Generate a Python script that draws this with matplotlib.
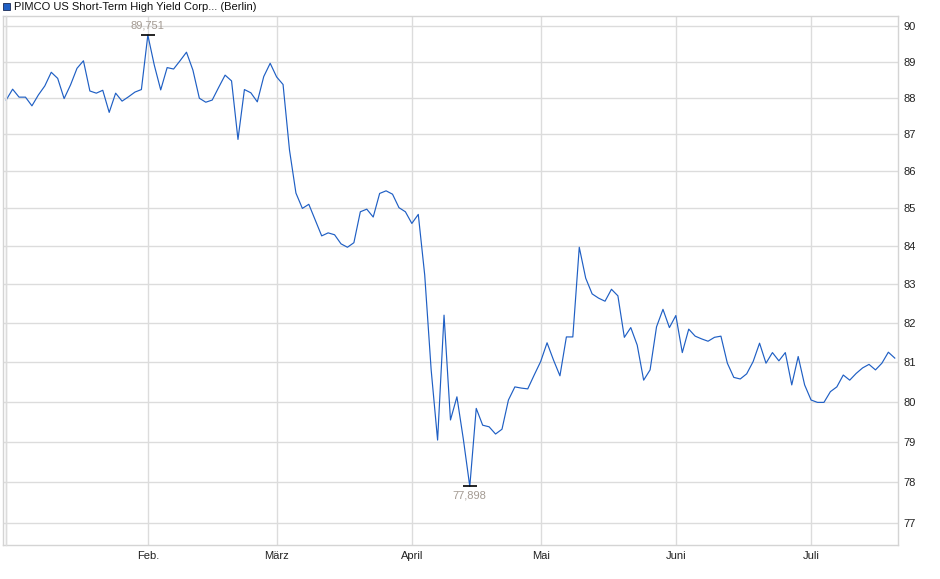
import matplotlib.pyplot as plt
from matplotlib.patches import Rectangle
from matplotlib.lines import Line2D

# daily closes (Berlin), one value per trading day
prices = [
    87.94, 88.24, 88.02, 88.02, 87.78, 88.08, 88.33, 88.71, 88.54, 87.98,
    88.36, 88.82, 89.03, 88.19, 88.13, 88.21, 87.60, 88.13, 87.91, 88.03,
    88.16, 88.23, 89.751, 88.91, 88.22, 88.84, 88.80, 89.03, 89.27, 88.77,
    87.99, 87.88, 87.94, 88.29, 88.63, 88.47, 86.86, 88.23, 88.14, 87.89,
    88.59, 88.96, 88.58, 88.37, 86.57, 85.41, 85.00, 85.11, 84.69, 84.27,
    84.35, 84.30, 84.06, 83.97, 84.09, 84.91, 84.98, 84.77, 85.40, 85.47,
    85.38, 85.02, 84.91, 84.60, 84.84, 83.24, 80.80, 79.04, 82.20, 79.54,
    80.12, 79.06, 77.898, 79.83, 79.41, 79.37, 79.19, 79.31, 80.04, 80.37,
    80.34, 80.32, 80.67, 81.01, 81.49, 81.05, 80.65, 81.64, 81.64, 83.97,
    83.16, 82.75, 82.64, 82.56, 82.87, 82.70, 81.63, 81.88, 81.43, 80.54,
    80.80, 81.90, 82.35, 81.88, 82.19, 81.24, 81.84, 81.66, 81.59, 81.53,
    81.63, 81.66, 80.97, 80.61, 80.57, 80.70, 81.01, 81.48, 80.97, 81.24,
    81.03, 81.24, 80.42, 81.14, 80.42, 80.04, 79.98, 79.98, 80.25, 80.37,
    80.67, 80.54, 80.71, 80.85, 80.94, 80.80, 80.97, 81.25, 81.10,
]
month_pos = [0, 22, 42, 63, 83, 104, 125]
month_labels = ['', 'Feb.', 'März', 'April', 'Mai', 'Juni', 'Juli']
y_ticks = [77, 78, 79, 80, 81, 82, 83, 84, 85, 86, 87, 88, 89, 90]
title = 'PIMCO US Short-Term High Yield Corp... (Berlin)'

plt.rcParams['font.family'] = ['Liberation Sans', 'DejaVu Sans']

fig = plt.figure(figsize=(9.4, 5.79), dpi=100)
ax = fig.add_axes([2.5 / 940, 34 / 579, 895.5 / 940, 529 / 579])

x = list(range(len(prices)))
ax.plot(x, prices, color='#1f5fc4', lw=0.85, zorder=3)

ax.set_yscale('log')
ax.set_ylim(76.48, 90.29)
ax.set_xlim(-0.57, 138.5)

ax.set_yticks(y_ticks)
ax.set_yticklabels([str(t) for t in y_ticks])
ax.yaxis.set_minor_locator(plt.NullLocator())
ax.yaxis.tick_right()
ax.set_xticks(month_pos)
ax.set_xticklabels(month_labels)
ax.tick_params(axis='both', length=0, labelsize=8, colors='#222222')
ax.tick_params(axis='y', pad=4)
ax.tick_params(axis='x', pad=4)

ax.grid(True, color='#dcdcdc', lw=1.0, zorder=0)
for s in ax.spines.values():
    s.set_color('#d4d4d4')
    s.set_linewidth(1.0)

# high and low markers
i_hi = prices.index(max(prices))
i_lo = prices.index(min(prices))
ax.plot([i_hi], [prices[i_hi]], marker='_', ms=10, mew=1.2, color='black', zorder=4)
ax.plot([i_lo], [prices[i_lo]], marker='_', ms=10, mew=1.2, color='black', zorder=4)
ax.annotate(f'{prices[i_hi]:.3f}'.replace('.', ','), (i_hi, prices[i_hi]),
            xytext=(0, 3), textcoords='offset points', ha='center', va='bottom',
            fontsize=8, color='#a39a92')
ax.annotate(f'{prices[i_lo]:.3f}'.replace('.', ','), (i_lo, prices[i_lo]),
            xytext=(0, -3), textcoords='offset points', ha='center', va='top',
            fontsize=8, color='#a39a92')

# extra frame line just inside the left edge
fig.add_artist(Line2D([5.5 / 940, 5.5 / 940], [34 / 579, 563 / 579],
                      color='#dcdcdc', lw=1.0))

# legend box
fig.add_artist(Rectangle((3 / 940, 569 / 579), 7 / 940, 7 / 579,
                         facecolor='#1f5fc4', edgecolor='#1a2a55', lw=0.6))
fig.text(14 / 940, 572.5 / 579, title, fontsize=8, va='center', ha='left', color='#111111')

fig.savefig('out.png', dpi=100)
